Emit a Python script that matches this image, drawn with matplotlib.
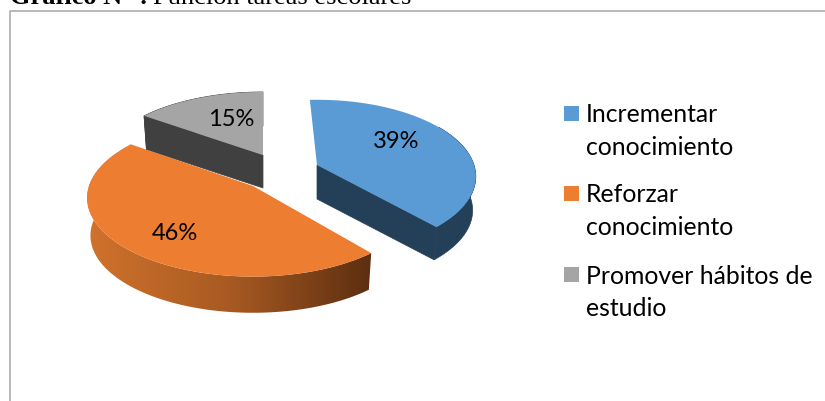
import numpy as np
import matplotlib.pyplot as plt
from matplotlib.colors import LinearSegmentedColormap
from matplotlib.patches import Polygon, Rectangle

categories = ['Incrementar\nconocimiento', 'Reforzar\nconocimiento', 'Promover hábitos de\nestudio']
percents = [39, 46, 15]
labels = ['39%', '46%', '15%']
title_bold = 'Gráfico N° :'
title_rest = 'Función tareas escolares'

top_colors = ['#5b9bd5', '#ed7d31', '#a5a5a5']
side_colors = ['#243f58', None, '#404040']

# apex pixel, half widths, perspective and first angle of each exploded slice
apex = [(317, 165), (253, 186), (263, 155)]
widths = [157, 164, 160]
heights = [75, 77, 72.5]
rotation = [-3, 0, 0]
depth = [34, 38, 33]
label_pos = [(396, 142), (175, 233), (231, 119)]
persp = 0.15
shrink = 0.98


def project(i, theta, lower=False):
    """ Perspective view of a point on the rim, theta clockwise from the top """
    rad = np.radians(theta + rotation[i])
    u, v = np.sin(rad), np.cos(rad)
    x = widths[i] * u / (1 + persp * v)
    y = heights[i] * v / (1 + persp * v)
    if lower:
        return apex[i][0] + x * shrink, apex[i][1] - y * shrink + depth[i]
    return apex[i][0] + x, apex[i][1] - y


fig = plt.figure(figsize=(8.25, 4.01), dpi=100)
ax = fig.add_axes([0, 0, 1, 1])
ax.set_xlim(0, 825)
ax.set_ylim(401, 0)
ax.axis('off')

# chart frame
ax.plot([9.5, 9.5, 825], [401, 10.5, 10.5], color='#a6a6a6', lw=1.1, clip_on=False)

ends = np.cumsum(percents) * 3.6
starts = np.concatenate(([0], ends[:-1]))
orange_cmap = LinearSegmentedColormap.from_list('side', ['#d0722c', '#a85a22', '#5c2e10'])

for i in [2, 1, 0]:
    thetas = np.linspace(starts[i], ends[i], 120)
    upper = np.array([project(i, t) for t in thetas])
    lower = np.array([project(i, t, True) for t in thetas])
    a = np.array(apex[i], dtype=float)
    a_low = a + [0, depth[i]]

    if i == 1:
        wall = np.vstack([upper, lower[::-1]])
        patch = Polygon(wall, closed=True, fc='none', ec='none')
        ax.add_patch(patch)
        grad = np.linspace(0, 1, 256).reshape(1, -1)
        im = ax.imshow(grad, cmap=orange_cmap, aspect='auto',
                       extent=(wall[:, 0].min(), wall[:, 0].max(), wall[:, 1].max(), wall[:, 1].min()),
                       zorder=1)
        im.set_clip_path(patch)
        ax.set_xlim(0, 825)
        ax.set_ylim(401, 0)
    else:
        # only the front of the rim shows, the cut face joins on to it
        front = thetas >= 60
        wall = np.vstack([upper[front], lower[front][::-1]])
        ax.add_patch(Polygon(wall, closed=True, fc=side_colors[i], ec=side_colors[i], lw=0.5, zorder=1))
        if i == 0:
            face = [upper[-1], a, a_low, lower[-1]]
        else:
            face = [upper[0], a, a_low, lower[0]]
        ax.add_patch(Polygon(face, closed=True, fc=side_colors[i], ec=side_colors[i], lw=0.5, zorder=1))

    ax.add_patch(Polygon(np.vstack([a, upper]), closed=True, fc=top_colors[i], ec='none', zorder=2))
    ax.text(label_pos[i][0], label_pos[i][1], labels[i], ha='center', va='center',
            fontsize=17, family='Lato', color='black', zorder=5)

# legend
squares_y = [106, 186, 267]
for i, name in enumerate(categories):
    ax.add_patch(Rectangle((564, squares_y[i]), 15, 15, fc=top_colors[i], ec='none'))
    ax.text(586, squares_y[i] - 2.5, name, ha='left', va='top', fontsize=17.8, family='Lato',
            linespacing=1.48, color='black')

# title is cut by the top of the image
t = ax.text(10, 4, title_bold, ha='left', va='baseline', fontsize=19, fontweight='bold',
            family='Liberation Serif', color='black')
fig.canvas.draw()
box = t.get_window_extent()
ax.text(box.x1 + 5, 4, title_rest, ha='left', va='baseline', fontsize=19,
        family='Liberation Serif', color='black')

fig.savefig('out.png', dpi=100)
